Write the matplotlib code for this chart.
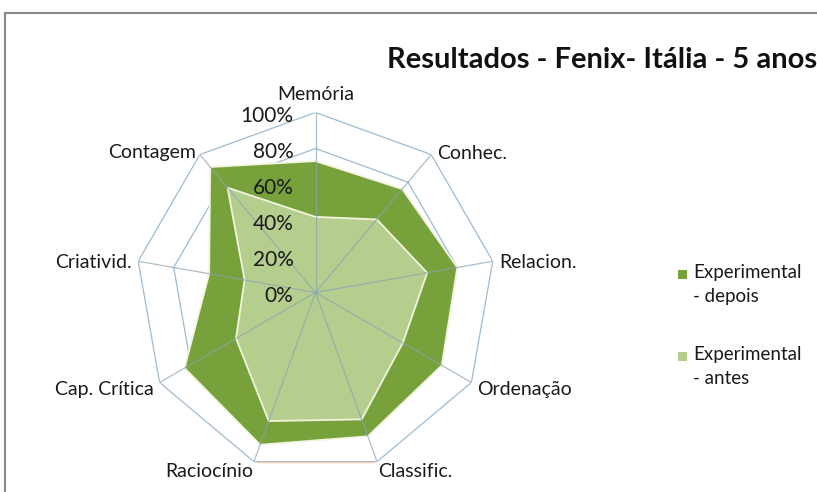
"""Radar chart: Resultados - Fenix- Itália - 5 anos (antes / depois)."""
import matplotlib

matplotlib.use("Agg")
import matplotlib.pyplot as plt
import numpy as np
from matplotlib.patches import Rectangle

plt.rcParams["font.family"] = ["Lato", "DejaVu Sans"]

categories = ["Memória", "Conhec.", "Relacion.", "Ordenação", "Classific.",
              "Raciocínio", "Cap. Crítica", "Criativid.", "Contagem"]
depois = [0.73, 0.75, 0.80, 0.81, 0.85, 0.90, 0.84, 0.60, 0.91]
antes = [0.42, 0.53, 0.63, 0.56, 0.75, 0.76, 0.51, 0.40, 0.76]
series_labels = ["Experimental\n- depois", "Experimental\n- antes"]
series_colors = ["#77A23B", "#B5CE8E"]
ring_values = [0.2, 0.4, 0.6, 0.8, 1.0]
tick_values = [0.0, 0.2, 0.4, 0.6, 0.8, 1.0]
tick_labels = ["0%", "20%", "40%", "60%", "80%", "100%"]

W, H = 817, 492
fig = plt.figure(figsize=(W / 100, H / 100), dpi=100)

# moldura do gráfico (cortada pela imagem à direita e em baixo)
fig.add_artist(Rectangle((5 / W, -0.1), 1.2, (H - 13) / H + 0.1,
                         transform=fig.transFigure, fill=False,
                         edgecolor="#8A8A8A", linewidth=1.5))

cx, cy, R = 315.5, 292.5, 180
ax = fig.add_axes([(cx - R) / W, (H - cy - R) / H, 2 * R / W, 2 * R / H],
                  projection="polar")
ax.set_theta_zero_location("N")
ax.set_theta_direction(-1)
ax.set_ylim(0, 1)
ax.grid(False)
ax.spines["polar"].set_visible(False)
ax.set_xticks([])
ax.set_yticks([])
ax.patch.set_alpha(0)

n = len(categories)
theta = np.linspace(0, 2 * np.pi, n, endpoint=False)
theta_c = np.append(theta, theta[0])

grid_color = "#9DBCD1"
for r in ring_values:
    ax.plot(theta_c, [r] * (n + 1), color=grid_color, lw=0.9, zorder=1)
# linha do eixo de categorias (segmento inferior, tom alaranjado)
ax.plot(theta[4:6], [1.0, 1.0], color="#F2C6B0", lw=1.0, zorder=1.5)

for vals, col, z in [(depois, series_colors[0], 2), (antes, series_colors[1], 3)]:
    v = np.append(vals, vals[0])
    ax.fill(theta_c, v, facecolor=col, edgecolor="#F3F3DF", lw=1.3, zorder=z)

for t in theta:
    ax.plot([t, t], [0, 1], color="#8AA3B3", lw=0.9, alpha=0.7, zorder=4)

for v, lab in zip(tick_values, tick_labels):
    ax.annotate(lab, (0, v), xytext=(-22, -3), textcoords="offset pixels",
                ha="right", va="center", fontsize=15, color="#1A1A1A", zorder=5)

label_pos = [
    (1.0, "center", "bottom", (0, 9)),
    (1.0, "left", "center", (6, 1)),
    (1.0, "left", "center", (6, -1)),
    (1.0, "left", "center", (6, -7)),
    (1.0, "left", "top", (1, -1)),
    (1.0, "right", "top", (-1, -1)),
    (1.0, "right", "center", (-6, -7)),
    (1.0, "right", "center", (-6, -1)),
    (1.0, "right", "center", (-4, 2)),
]
for t, cat, (r, ha, va, off) in zip(theta, categories, label_pos):
    ax.annotate(cat, (t, r), xytext=off, textcoords="offset pixels",
                ha=ha, va=va, fontsize=14, color="#1A1A1A", annotation_clip=False)

fig.text(387 / W, 1 - 60 / H, "Resultados - Fenix- Itália - 5 anos",
         ha="left", va="center", fontsize=21, fontweight="bold", color="#111111")

# legenda
for i, (lab, col) in enumerate(zip(series_labels, series_colors)):
    ytop = 264 + i * 82
    fig.add_artist(Rectangle((678 / W, 1 - 279 / H - i * 82 / H), 9 / W, 9 / H,
                             transform=fig.transFigure, facecolor=col,
                             edgecolor="none"))
    fig.text(693 / W, 1 - ytop / H, lab, ha="left", va="top", fontsize=13.5,
             color="#1A1A1A", linespacing=1.5)

fig.savefig("out.png", dpi=100)
